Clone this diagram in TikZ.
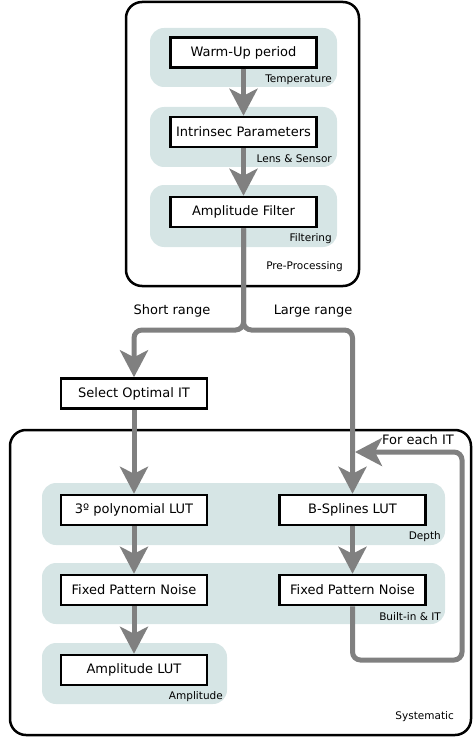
\documentclass[tikz,border=0pt]{standalone}
\usepackage{fontspec}
\setmainfont{DejaVu Sans}
\usetikzlibrary{arrows.meta}
\definecolor{bandcol}{HTML}{D6E5E5}
\definecolor{flowcol}{HTML}{808080}

\begin{document}
\begin{tikzpicture}[x=1pt, y=-1pt,
  box/.style={draw, line width=2.5pt, fill=white, minimum width=146pt, minimum height=30pt, inner sep=0pt, font=\fontsize{13}{15}\selectfont},
  band/.style={fill=bandcol, rounded corners=14pt},
  frame/.style={draw, line width=2.5pt, rounded corners=16pt},
  tag/.style={anchor=east, inner sep=0pt, font=\fontsize{10.5}{12}\selectfont},
  say/.style={inner sep=0pt, font=\fontsize{13}{15}\selectfont},
  flow/.style={draw=flowcol, line width=5pt, rounded corners=8pt, -{Stealth[length=27pt, width=28pt, inset=7pt]}}]
  \useasboundingbox (0,0) rectangle (473,738);
  \draw[frame] (126,2) rectangle (359,286);
  \draw[frame] (10,430) rectangle (471,735);
  \fill[band] (150,28) rectangle (337,87);
  \fill[band] (150,107) rectangle (337,167);
  \fill[band] (150,185) rectangle (337,247);
  \fill[band] (42,483) rectangle (445,545);
  \fill[band] (42,563) rectangle (445,624);
  \fill[band] (42,643) rectangle (227,704);

  \node [tag] (temp) at (332,80) {Temperature};
  \node [tag] (lens) at (332,159) {Lens \& Sensor};
  \node [tag] (filt) at (332,239) {Filtering};
  \node [tag] (prep) at (343,267) {Pre-Processing};
  \node [tag] (dep) at (441,537) {Depth};
  \node [tag] (bit) at (441,617) {Built-in \& IT};
  \node [tag] (amp) at (223,697) {Amplitude};
  \node [tag] (sys) at (454,717) {Systematic};

  \node [box] (warm) at (243.5,52.5) {Warm-Up period};
  \node [box] (intr) at (243.5,132) {Intrinsec Parameters};
  \node [box] (ampf) at (243.5,212) {Amplitude Filter};
  \node [box] (sel) at (134,393.5) {Select Optimal IT};
  \node [box] (poly) at (134,510) {3º polynomial LUT};
  \node [box] (bspl) at (352.5,510) {B-Splines LUT};
  \node [box] (fpnl) at (134,590) {Fixed Pattern Noise};
  \node [box] (fpnr) at (352.5,590) {Fixed Pattern Noise};
  \node [box] (alut) at (134,670) {Amplitude LUT};

  \node [say] (short) at (172,311) {Short range};
  \node [say] (large) at (313,311) {Large range};
  \node [say] (each) at (418,440) {For each IT};

  \coordinate (fork) at (243.5,330);
  \coordinate (back) at (462,660);
  \coordinate (loop) at (355,452);

  \draw[flow] (warm) -- (intr);
  \draw[flow] (intr) -- (ampf);
  \draw[flow] (ampf.south) -- (fork) -| (sel.north);
  \draw[flow] (ampf.south) -- (fork) -| (bspl.north);
  \draw[flow] (sel) -- (poly);
  \draw[flow] (poly) -- (fpnl);
  \draw[flow] (fpnl) -- (alut);
  \draw[flow] (bspl) -- (fpnr);
  \draw[flow] (fpnr.south) |- (back) |- (loop);
\end{tikzpicture}
\end{document}
